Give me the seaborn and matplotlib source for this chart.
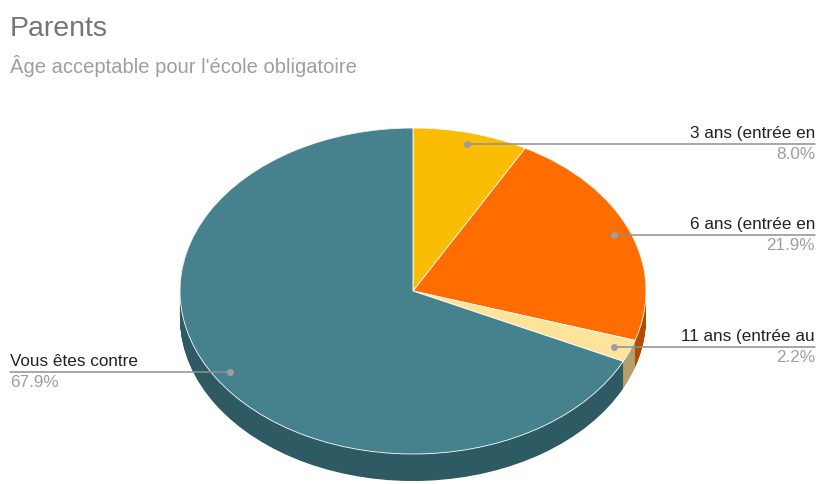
import matplotlib
matplotlib.use("Agg")
import matplotlib.pyplot as plt
import numpy as np
import seaborn as sns

title = "Parents"
subtitle = "Âge acceptable pour l'école obligatoire"
labels = ["3 ans (entrée en", "6 ans (entrée en", "11 ans (entrée au", "Vous êtes contre"]
shares = [8.0, 21.9, 2.2, 67.9]
top_colors = ["#fbbc04", "#ff6d01", "#fee49a", "#46818e"]
side_colors = ["#b08403", "#b34c00", "#b3a06b", "#2e5a63"]

sns.set_theme(style="white")
plt.rcParams["font.family"] = ["Liberation Sans", "DejaVu Sans"]

W, H = 817, 484
fig = plt.figure(figsize=(W / 100, H / 100), dpi=100)
ax = fig.add_axes([0, 0, 1, 1])

# ellipse geometry in pixels
cx, cy = 413, 291
rx, ry = 233, 163
depth = 27 / ry

# side of the 3d pie: stack of darker pies shifted down
for k in np.linspace(depth, 0.0, 40):
    ax.pie(shares, colors=side_colors, startangle=90, counterclock=False,
           center=(0, -k), radius=1, wedgeprops=dict(linewidth=0))
ax.pie(shares, colors=top_colors, startangle=90, counterclock=False,
       center=(0, 0), radius=1, wedgeprops=dict(linewidth=0.6, edgecolor="white"))

ax.set_aspect("auto")
ax.set_xlim(-cx / rx, (W - cx) / rx)
ax.set_ylim(-(H - cy) / ry, cy / ry)
ax.axis("off")

x_left = (10 - cx) / rx
x_right = (815 - cx) / rx
frac = np.cumsum([0] + shares[:-1]) + np.array(shares) / 2
ang = np.deg2rad(frac / 100 * 360)
r_dot = 0.93
line_col = "#8f8f8f"
fs = 12.3
for lab, val, a in zip(labels, shares, ang):
    dx, dy = r_dot * np.sin(a), r_dot * np.cos(a)
    ax.plot([dx], [dy], "o", color="#9e9e9e", ms=4, zorder=5)
    if dx >= 0:
        xe, ha = x_right, "right"
        ax.plot([dx, xe], [dy, dy], color=line_col, lw=1.1, zorder=4)
    else:
        xe, ha = x_left, "left"
        ax.plot([xe, dx], [dy, dy], color=line_col, lw=1.1, zorder=4)
    ax.text(xe, dy + 6 / ry, lab, ha=ha, va="baseline", fontsize=fs, color="#222222")
    ax.text(xe, dy - 3 / ry, f"{val:.1f}%", ha=ha, va="top", fontsize=fs, color="#9e9e9e")

fig.text(10 / W, 1 - 36 / H, title, fontsize=20.5, color="#757575", ha="left", va="baseline")
fig.text(10 / W, 1 - 73 / H, subtitle, fontsize=14.5, color="#9e9e9e", ha="left", va="baseline")

fig.savefig("out.png", dpi=100)
